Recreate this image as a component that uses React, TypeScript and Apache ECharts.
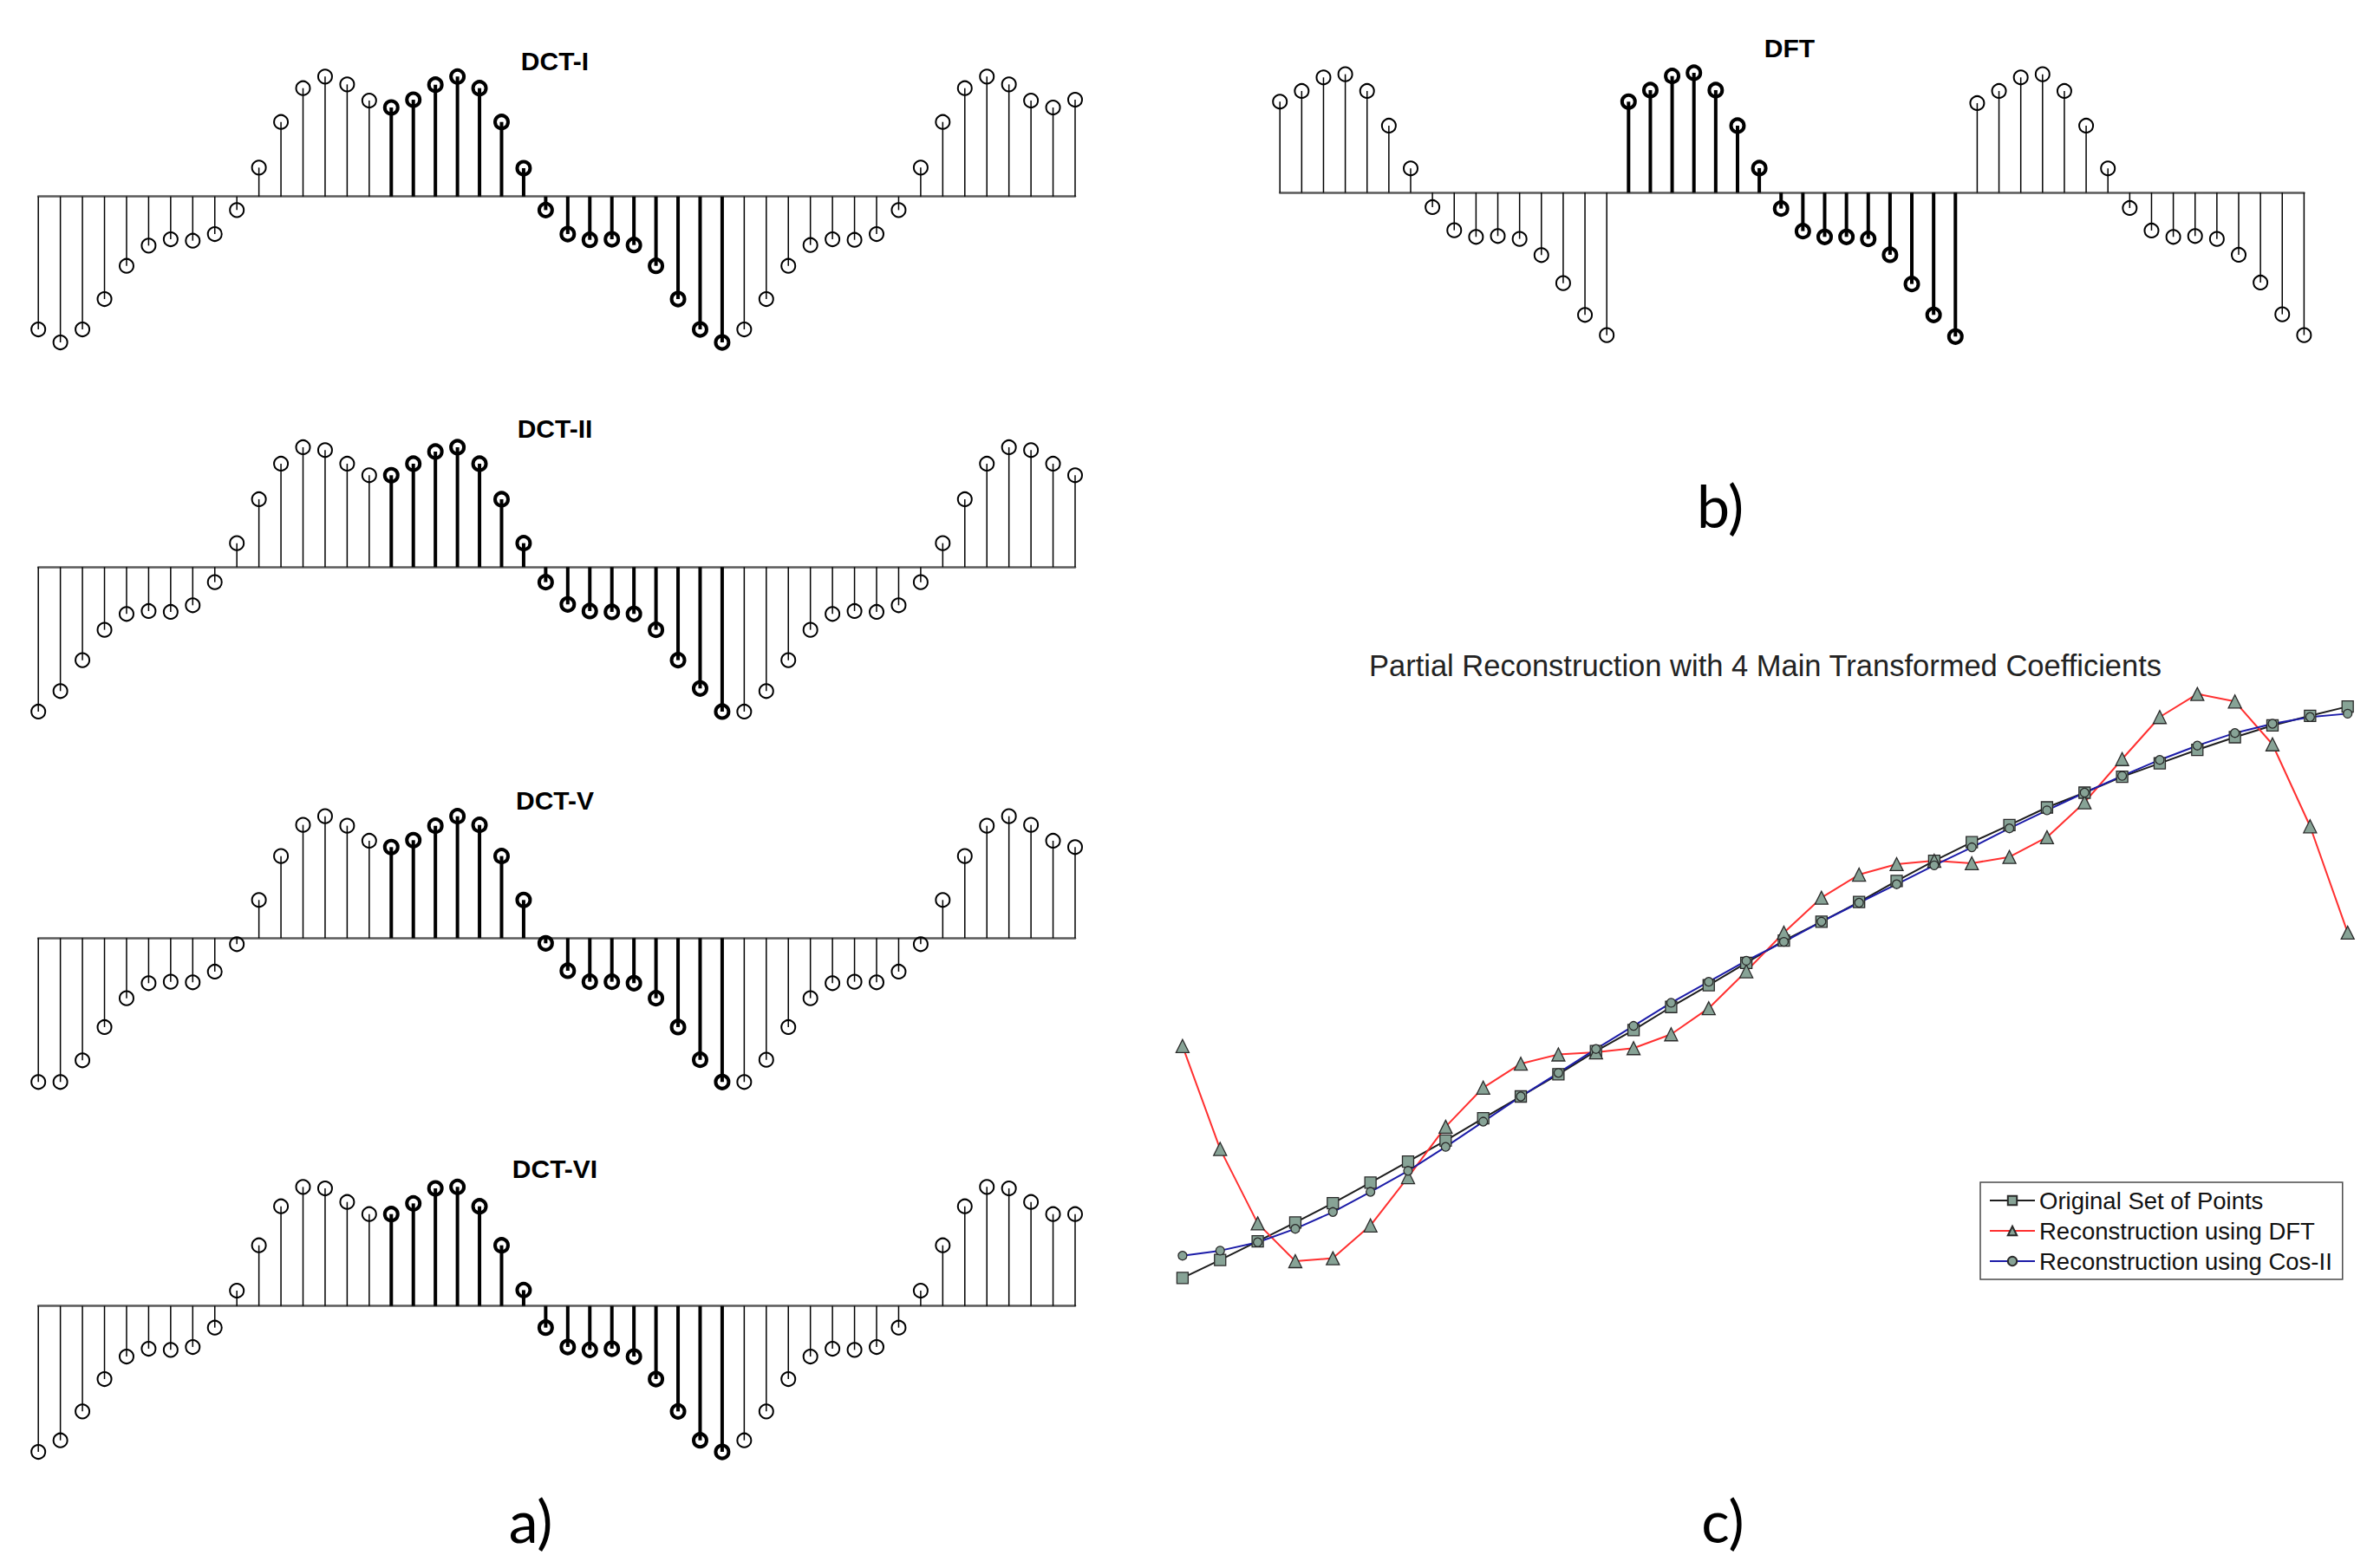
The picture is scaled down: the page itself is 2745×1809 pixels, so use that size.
import React, { useEffect, useRef } from "react";
import * as echarts from "echarts";

// ---------- Panel a) / b): stem plots (48 samples each, samples 16..31 are the original block) ----------
const dctI = [-4.6, -5.05, -4.6, -3.55, -2.4, -1.7, -1.48, -1.53, -1.3, -0.47, 1.0, 2.58, 3.75, 4.15, 3.88, 3.32,
  3.08, 3.35, 3.87, 4.15, 3.75, 2.58, 0.98, -0.47, -1.3, -1.5, -1.48, -1.68, -2.4, -3.55, -4.6, -5.05,
  -4.6, -3.55, -2.4, -1.68, -1.48, -1.5, -1.3, -0.47, 1.0, 2.58, 3.75, 4.15, 3.88, 3.32, 3.08, 3.35];
const dctII = [-5.0, -4.29, -3.22, -2.17, -1.62, -1.52, -1.55, -1.32, -0.52, 0.83, 2.35, 3.58, 4.15, 4.05, 3.58, 3.18,
  3.18, 3.58, 4.0, 4.15, 3.58, 2.35, 0.83, -0.52, -1.29, -1.52, -1.55, -1.62, -2.17, -3.22, -4.2, -5.0,
  -5.0, -4.29, -3.22, -2.17, -1.62, -1.52, -1.55, -1.32, -0.52, 0.83, 2.35, 3.58, 4.15, 4.05, 3.58, 3.18];
const dctV = [-4.98, -4.98, -4.23, -3.08, -2.08, -1.56, -1.51, -1.53, -1.16, -0.21, 1.32, 2.84, 3.92, 4.22, 3.89, 3.37,
  3.15, 3.39, 3.89, 4.22, 3.92, 2.84, 1.32, -0.18, -1.13, -1.51, -1.51, -1.56, -2.08, -3.08, -4.21, -4.98,
  -4.98, -4.21, -3.08, -2.08, -1.56, -1.51, -1.53, -1.16, -0.21, 1.32, 2.84, 3.89, 4.22, 3.92, 3.37, 3.15];
const dctVI = [-5.05, -4.65, -3.65, -2.53, -1.75, -1.48, -1.52, -1.42, -0.75, 0.53, 2.1, 3.45, 4.12, 4.07, 3.6, 3.18,
  3.18, 3.55, 4.07, 4.12, 3.45, 2.1, 0.55, -0.75, -1.42, -1.52, -1.48, -1.75, -2.53, -3.65, -4.65, -5.05,
  -4.65, -3.65, -2.53, -1.75, -1.48, -1.52, -1.42, -0.75, 0.53, 2.1, 3.45, 4.12, 4.07, 3.6, 3.18, 3.18];
const dft = [3.15, 3.52, 3.99, 4.1, 3.52, 2.32, 0.84, -0.5, -1.3, -1.53, -1.5, -1.6, -2.16, -3.13, -4.23, -4.93,
  3.15, 3.55, 4.04, 4.15, 3.55, 2.32, 0.85, -0.55, -1.33, -1.53, -1.53, -1.6, -2.15, -3.16, -4.23, -4.98,
  3.1, 3.52, 3.99, 4.1, 3.52, 2.32, 0.84, -0.53, -1.31, -1.53, -1.5, -1.6, -2.15, -3.11, -4.21, -4.93];
const originalBlock = [16, 31]; // first and last index of the highlighted (original) samples

const stemTitles = ["DCT-I", "DCT-II", "DCT-V", "DCT-VI", "DFT"];

// ---------- Panel c): partial reconstruction ----------
const seriesNames = ["Original Set of Points", "Reconstruction using DFT", "Reconstruction using Cos-II"];
const originalPts = [0.85, 1.28, 1.72, 2.17, 2.63, 3.12, 3.62, 4.12, 4.65, 5.17, 5.7, 6.25, 6.75, 7.3, 7.82, 8.35,
  8.88, 9.33, 9.8, 10.3, 10.78, 11.22, 11.63, 12.05, 12.4, 12.78, 13.1, 13.42, 13.72, 14.0, 14.23, 14.45];
const dftRec = [6.37, 3.92, 2.15, 1.25, 1.32, 2.1, 3.25, 4.45, 5.38, 5.95, 6.17, 6.22, 6.32, 6.65, 7.27, 8.15,
  9.07, 9.9, 10.45, 10.7, 10.78, 10.72, 10.87, 11.34, 12.17, 13.2, 14.2, 14.75, 14.57, 13.55, 11.6, 9.07];
const cosRec = [1.38, 1.5, 1.7, 2.02, 2.42, 2.9, 3.4, 3.97, 4.57, 5.17, 5.73, 6.3, 6.85, 7.4, 7.9, 8.4,
  8.85, 9.33, 9.78, 10.22, 10.67, 11.1, 11.55, 11.98, 12.4, 12.8, 13.18, 13.52, 13.82, 14.04, 14.2, 14.28];
const chartTitle = "Partial Reconstruction with 4 Main Transformed Coefficients";
const panelLabels = ["a)", "b)", "c)"];

export default function App() {
  const ref = useRef<HTMLDivElement>(null);

  useEffect(() => {
    if (!ref.current) return;
    const chart = echarts.init(ref.current, null, { renderer: "svg" });

    const stemSets = [dctI, dctII, dctV, dctVI, dft];
    const stemGrids = [
      { left: 44.2, width: 1195.8, top: 26.7, height: 400 },
      { left: 44.2, width: 1195.8, top: 454.3, height: 400 },
      { left: 44.2, width: 1195.8, top: 882.3, height: 400 },
      { left: 44.2, width: 1195.8, top: 1306.7, height: 400 },
      { left: 1476.2, width: 1181.2, top: 22.3, height: 400 },
    ];
    const titlePos = [
      [640, 70],
      [640, 494],
      [640, 923],
      [640, 1348],
      [2064, 55],
    ];

    const grids: any[] = stemGrids.map((g) => ({ ...g, containLabel: false }));
    grids.push({ left: 1363.9, width: 1343.8, top: 740, height: 775.6, containLabel: false });

    const hiddenAxis = {
      axisLine: { show: false },
      axisTick: { show: false },
      axisLabel: { show: false },
      splitLine: { show: false },
    };

    const xAxes: any[] = stemGrids.map((_, i) => ({
      type: "value",
      gridIndex: i,
      min: 0,
      max: 47,
      axisLine: { show: true, onZero: true, lineStyle: { color: "#5a5a5a", width: 2.5 } },
      axisTick: { show: false },
      axisLabel: { show: false },
      splitLine: { show: false },
    }));
    xAxes.push({ type: "value", gridIndex: 5, min: 0, max: 31, ...hiddenAxis });

    const yAxes: any[] = stemGrids.map((_, i) => ({
      type: "value",
      gridIndex: i,
      min: -6,
      max: 6,
      ...hiddenAxis,
    }));
    yAxes.push({ type: "value", gridIndex: 5, min: 0, max: 16, ...hiddenAxis });

    const stemSeries = stemSets.map((vals, gi) => ({
      type: "custom",
      xAxisIndex: gi,
      yAxisIndex: gi,
      clip: false,
      data: vals.map((v, i) => [i, v, i >= originalBlock[0] && i <= originalBlock[1] ? 1 : 0]),
      renderItem: (params: any, api: any) => {
        const x = api.value(0);
        const v = api.value(1);
        const bold = api.value(2) === 1;
        const base = api.coord([x, 0]);
        const tip = api.coord([x, v]);
        return {
          type: "group",
          children: [
            {
              type: "line",
              shape: { x1: base[0], y1: base[1], x2: tip[0], y2: tip[1] },
              style: { stroke: "#000", lineWidth: bold ? 4 : 1.5 },
            },
            {
              type: "circle",
              shape: { cx: tip[0], cy: tip[1], r: bold ? 7.5 : 8 },
              style: { fill: "none", stroke: "#000", lineWidth: bold ? 4 : 2 },
            },
          ],
        };
      },
    }));

    const markerFill = "#87a396";
    const lineSeries = [
      { name: seriesNames[0], vals: originalPts, color: "#1e1e1e", symbol: "rect", size: 13 },
      { name: seriesNames[1], vals: dftRec, color: "#ff3030", symbol: "triangle", size: 15 },
      { name: seriesNames[2], vals: cosRec, color: "#1c1ca8", symbol: "circle", size: 10 },
    ].map((s) => ({
      name: s.name,
      type: "line",
      xAxisIndex: 5,
      yAxisIndex: 5,
      data: s.vals.map((v, i) => [i, v]),
      symbol: s.symbol,
      symbolSize: s.size,
      showSymbol: true,
      lineStyle: { color: s.color, width: 2 },
      itemStyle: { color: markerFill, borderColor: "#2a2a2a", borderWidth: 1.3 },
    }));

    const graphics: any[] = [];
    stemTitles.forEach((t, i) => {
      graphics.push({
        type: "text",
        x: titlePos[i][0],
        y: titlePos[i][1],
        style: {
          text: t,
          fontFamily: "'Liberation Sans', Arial, sans-serif",
          fontWeight: "bold",
          fontSize: 30,
          fill: "#000",
          align: "center",
          verticalAlign: "middle",
        },
      });
    });
    graphics.push({
      type: "text",
      x: 2036,
      y: 768,
      style: {
        text: chartTitle,
        fontFamily: "'Liberation Sans', Arial, sans-serif",
        fontSize: 34.5,
        fill: "#222",
        align: "center",
        verticalAlign: "middle",
      },
    });
    const labelPos = [
      [612, 1753],
      [1984, 582],
      [1987, 1753],
    ];
    panelLabels.forEach((t, i) => {
      graphics.push({
        type: "text",
        x: labelPos[i][0],
        y: labelPos[i][1],
        style: {
          text: t,
          fontFamily: "Lato, 'Open Sans', sans-serif",
          fontSize: 68,
          fill: "#000",
          align: "center",
          verticalAlign: "middle",
        },
      });
    });

    chart.setOption({
      animation: false,
      backgroundColor: "#ffffff",
      grid: grids,
      xAxis: xAxes,
      yAxis: yAxes,
      legend: {
        data: seriesNames,
        orient: "vertical",
        left: 2284,
        top: 1364,
        itemWidth: 52,
        itemHeight: 13,
        itemGap: 5,
        padding: [6, 12, 6, 10],
        borderColor: "#4a4a4a",
        borderWidth: 1.5,
        backgroundColor: "#ffffff",
        selectedMode: false,
        textStyle: {
          fontFamily: "'Liberation Sans', Arial, sans-serif",
          fontSize: 27.5,
          lineHeight: 30,
          color: "#111",
        },
      },
      series: [...stemSeries, ...lineSeries],
      graphic: graphics,
    });

    return () => chart.dispose();
  }, []);

  return (
    <div
      ref={ref}
      style={{ position: "fixed", left: 0, top: 0, width: 2745, height: 1809, background: "#fff" }}
    />
  );
}
